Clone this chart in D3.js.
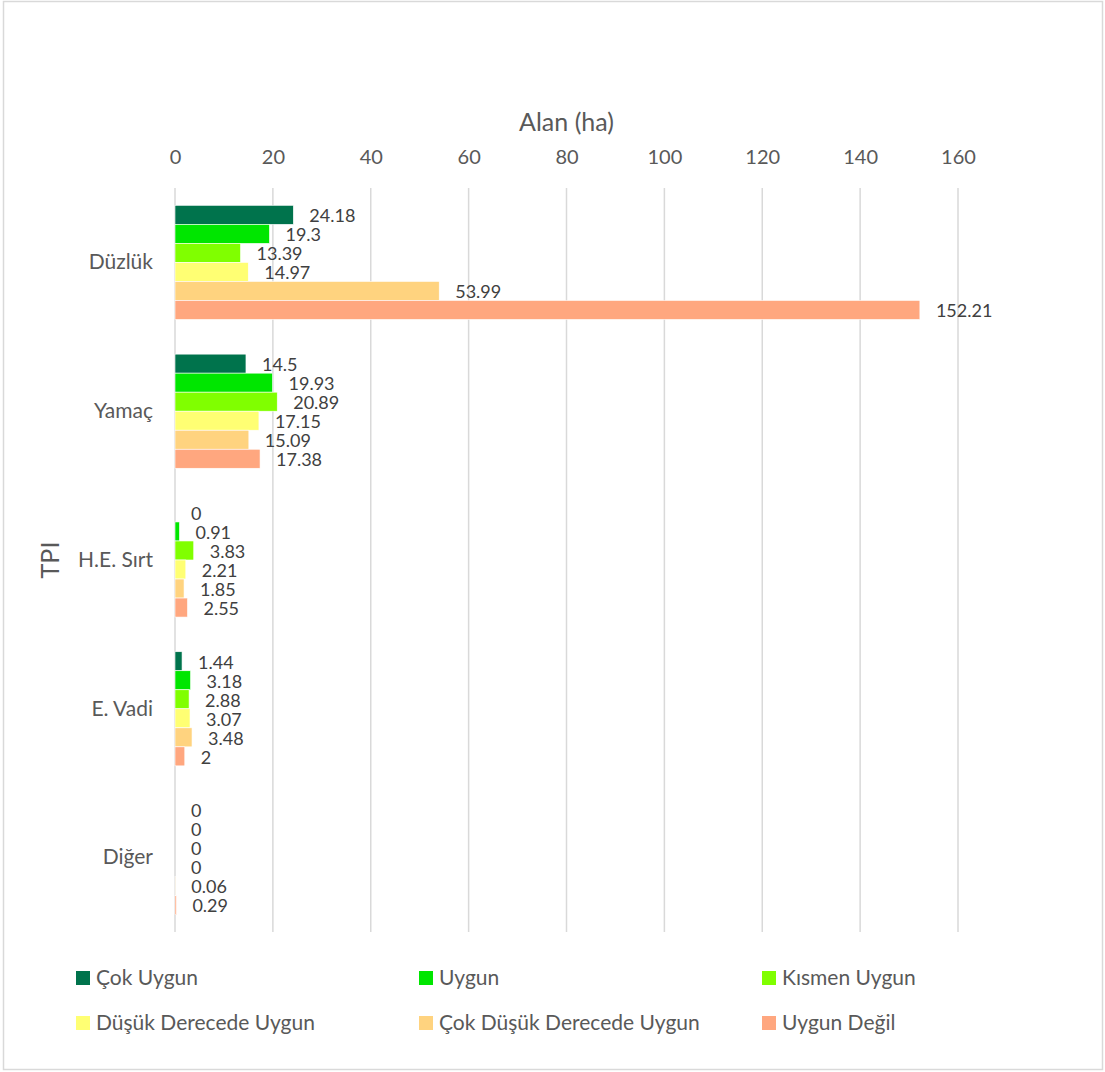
<!DOCTYPE html>
<html>
<head>
<meta charset="utf-8">
<script src="https://cdn.jsdelivr.net/npm/d3@7"></script>
<style>
  html, body { margin: 0; padding: 0; background: #fff; }
  svg { display: block; font-family: Lato, "Open Sans", sans-serif; }
</style>
</head>
<body>
<svg id="chart" width="1105" height="1072"></svg>
<script>
// TPI classes (top to bottom) and suitability series, area in hectares
const categories = ["Düzlük", "Yamaç", "H.E. Sırt", "E. Vadi", "Diğer"];
const seriesNames = ["Çok Uygun", "Uygun", "Kısmen Uygun", "Düşük Derecede Uygun", "Çok Düşük Derecede Uygun", "Uygun Değil"];
const seriesColors = ["#00734C", "#00E600", "#80FF00", "#FFFF73", "#FFD37F", "#FFA77F"];

const cokUygun       = [24.18, 14.5, 0, 1.44, 0];
const uygun          = [19.3, 19.93, 0.91, 3.18, 0];
const kismenUygun    = [13.39, 20.89, 3.83, 2.88, 0];
const dusukUygun     = [14.97, 17.15, 2.21, 3.07, 0];
const cokDusukUygun  = [53.99, 15.09, 1.85, 3.48, 0.06];
const uygunDegil     = [152.21, 17.38, 2.55, 2, 0.29];

const xTicks = [0, 20, 40, 60, 80, 100, 120, 140, 160];
const xTitle = "Alan (ha)";
const yTitle = "TPI";

const seriesValues = [cokUygun, uygun, kismenUygun, dusukUygun, cokDusukUygun, uygunDegil];

const svg = d3.select("#chart");
const W = 1105, H = 1072;

// outer chart border
svg.append("rect")
  .attr("x", 3.5).attr("y", 1.5)
  .attr("width", W - 6).attr("height", H - 4)
  .attr("fill", "#fff").attr("stroke", "#D9D9D9").attr("stroke-width", 1.5);

const plot = { left: 175, right: 958, top: 188, bottom: 932 };

const x = d3.scaleLinear().domain([0, 160]).range([plot.left, plot.right]);
const y = d3.scaleBand().domain(categories).range([plot.top, plot.bottom])
  .paddingInner(0.233).paddingOuter(0.1165);
const ySub = d3.scaleBand().domain(seriesNames).range([0, y.bandwidth()]).padding(0);

// vertical gridlines
svg.append("g")
  .selectAll("line")
  .data(xTicks)
  .join("line")
  .attr("x1", d => x(d)).attr("x2", d => x(d))
  .attr("y1", plot.top).attr("y2", plot.bottom)
  .attr("stroke", "#D9D9D9").attr("stroke-width", 1.5);

// top value axis
const xAxis = d3.axisTop(x).tickValues(xTicks).tickSize(0).tickPadding(0);
const gx = svg.append("g")
  .attr("transform", `translate(0,164)`)
  .call(xAxis);
gx.select(".domain").remove();
gx.selectAll("text")
  .attr("fill", "#595959")
  .attr("font-size", 20)
  .attr("font-family", "Lato, sans-serif")
  .attr("dy", 0);

svg.append("text")
  .attr("x", (plot.left + plot.right) / 2)
  .attr("y", 131)
  .attr("text-anchor", "middle")
  .attr("fill", "#595959")
  .attr("font-size", 25)
  .text(xTitle);

// category axis
const yAxis = d3.axisLeft(y).tickSize(0).tickPadding(22);
const gy = svg.append("g")
  .attr("transform", `translate(${plot.left},0)`)
  .call(yAxis);
gy.select(".domain").remove();
gy.selectAll("text")
  .attr("fill", "#595959")
  .attr("font-size", 21)
  .attr("font-family", "Lato, sans-serif");

svg.append("text")
  .attr("transform", `translate(59,${(plot.top + plot.bottom) / 2}) rotate(-90)`)
  .attr("text-anchor", "middle")
  .attr("fill", "#595959")
  .attr("font-size", 25)
  .text(yTitle);

// bars and value labels
const rows = [];
seriesNames.forEach((s, si) => {
  categories.forEach((c, ci) => {
    rows.push({ series: s, cat: c, value: seriesValues[si][ci], color: seriesColors[si] });
  });
});

const gBars = svg.append("g");
gBars.selectAll("rect")
  .data(rows)
  .join("rect")
  .attr("x", x(0))
  .attr("y", d => y(d.cat) + ySub(d.series))
  .attr("width", d => x(d.value) - x(0))
  .attr("height", ySub.bandwidth())
  .attr("fill", d => d.color)
  .attr("stroke", "#fff")
  .attr("stroke-width", 0.6);

gBars.selectAll("text")
  .data(rows)
  .join("text")
  .attr("x", d => x(d.value) + 16)
  .attr("y", d => y(d.cat) + ySub(d.series) + ySub.bandwidth() / 2 + 1)
  .attr("dy", "0.35em")
  .attr("fill", "#404040")
  .attr("font-size", 18)
  .text(d => String(d.value));

// legend, three columns in two rows
const legend = svg.append("g");
const legX = [76, 419, 762];
const legY = [978, 1023];
seriesNames.forEach((s, i) => {
  const gx0 = legX[i % 3], gy0 = legY[Math.floor(i / 3)];
  const item = legend.append("g").attr("transform", `translate(${gx0},${gy0})`);
  item.append("rect")
    .attr("x", 0).attr("y", -7)
    .attr("width", 14).attr("height", 14)
    .attr("fill", seriesColors[i]);
  item.append("text")
    .attr("x", 20).attr("y", 0)
    .attr("dy", "0.35em")
    .attr("fill", "#595959")
    .attr("font-size", 21)
    .text(s);
});
</script>
</body>
</html>
